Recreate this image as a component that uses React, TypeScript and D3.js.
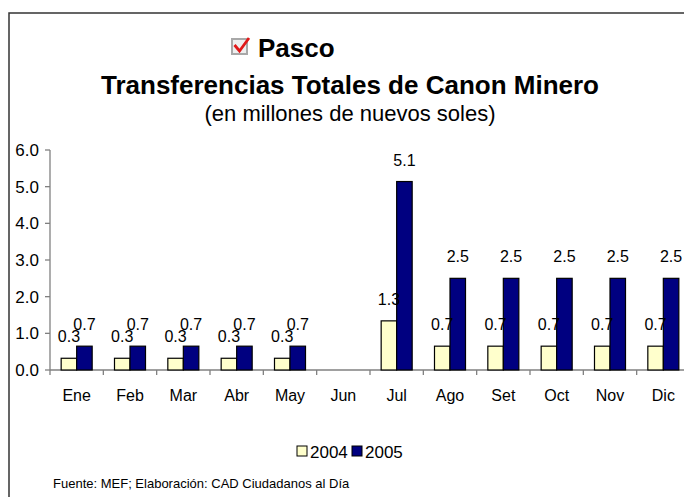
import React from "react";
import * as d3 from "d3";

const months = ["Ene", "Feb", "Mar", "Abr", "May", "Jun", "Jul", "Ago", "Set", "Oct", "Nov", "Dic"];
const series = ["2004", "2005"];
const values2004 = [0.32, 0.32, 0.32, 0.32, 0.32, 0, 1.34, 0.65, 0.65, 0.65, 0.65, 0.65];
const values2005 = [0.65, 0.65, 0.65, 0.65, 0.65, 0, 5.14, 2.5, 2.5, 2.5, 2.5, 2.5];
const yTicks = [0, 1, 2, 3, 4, 5, 6];
const colors = ["#FFFFCC", "#000080"];

const FONT = "'Liberation Sans', Arial, sans-serif";

export default function App() {
  const W = 684, H = 497;
  const left = 50, right = 690, top = 150, bottom = 370;
  const x = d3.scaleBand<string>().domain(months).range([left, right]).padding(0);
  const xs = d3.scaleBand<string>().domain(series).range([0, x.bandwidth()]).paddingInner(0).paddingOuter(0.72);
  const y = d3.scaleLinear().domain([0, 6]).range([bottom, top]);
  const data = [values2004, values2005];
  const fmt = (v: number) => v.toFixed(1);

  return (
    <svg width={W} height={H} style={{ position: "absolute", left: 0, top: 0, background: "#fff" }} fontFamily={FONT}>
      <rect x={9} y={13} width={690} height={500} fill="#fff" stroke="#333" strokeWidth={1.5} />
      {/* title */}
      <g>
        <rect x={232} y={39} width={15} height={15} fill="#eeeeee" stroke="#a8a8a8" strokeWidth={2} />
        <path d="M234.5,45 L239.5,51 L249,38" fill="none" stroke="#e01818" strokeWidth={2.8} />
        <text x={258} y={56.5} fontSize={26} fontWeight="bold" fill="#000">Pasco</text>
        <text x={350} y={93.5} fontSize={26} fontWeight="bold" textAnchor="middle" fill="#000">Transferencias Totales de Canon Minero</text>
        <text x={350} y={121} fontSize={22} textAnchor="middle" fill="#000">(en millones de nuevos soles)</text>
      </g>
      {/* y axis */}
      <line x1={left} x2={left} y1={top} y2={bottom} stroke="#808080" strokeWidth={1.3} />
      {yTicks.map((t) => (
        <g key={t}>
          <line x1={left - 5} x2={left} y1={y(t)} y2={y(t)} stroke="#808080" strokeWidth={1.3} />
          <text x={39} y={y(t) + 6} fontSize={17} textAnchor="end" fill="#000">{t.toFixed(1)}</text>
        </g>
      ))}
      {/* x axis */}
      <line x1={left} x2={right} y1={bottom} y2={bottom} stroke="#808080" strokeWidth={1.3} />
      {months.map((m) => (
        <line key={"t" + m} x1={x(m)!} x2={x(m)!} y1={bottom} y2={bottom + 5} stroke="#808080" strokeWidth={1.3} />
      ))}
      {months.map((m) => (
        <text key={"l" + m} x={x(m)! + x.bandwidth() / 2} y={401} fontSize={16} textAnchor="middle" fill="#000">{m}</text>
      ))}
      {/* bars */}
      {series.map((s, si) =>
        months.map((m, mi) => {
          const v = data[si][mi];
          if (v <= 0) return null;
          const bx = x(m)! + xs(s)!;
          return (
            <rect key={s + m} x={bx} y={y(v)} width={xs.bandwidth()} height={bottom - y(v)} fill={colors[si]} stroke="#000" strokeWidth={1.2} />
          );
        })
      )}
      {/* labels */}
      {series.map((s, si) =>
        months.map((m, mi) => {
          const v = data[si][mi];
          if (v <= 0) return null;
          const cx = x(m)! + xs(s)! + xs.bandwidth() / 2;
          return (
            <text key={"d" + s + m} x={cx} y={y(v) - 16} fontSize={16} textAnchor="middle" fill="#000">{fmt(v)}</text>
          );
        })
      )}
      {/* legend */}
      <rect x={297} y={446} width={10} height={10} fill={colors[0]} stroke="#000" strokeWidth={1} />
      <text x={310} y={458} fontSize={17} fill="#000">{series[0]}</text>
      <rect x={352} y={446} width={10} height={10} fill={colors[1]} stroke="#000" strokeWidth={1} />
      <text x={365} y={458} fontSize={17} fill="#000">{series[1]}</text>
      <text x={53} y={488} fontSize={13} fill="#000">Fuente: MEF; Elaboración: CAD Ciudadanos al Día</text>
    </svg>
  );
}
